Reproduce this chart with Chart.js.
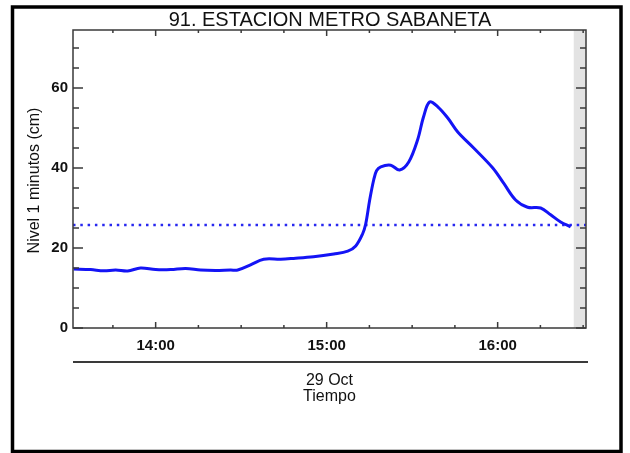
<!DOCTYPE html>
<html><head><meta charset="utf-8">
<script src="https://cdn.jsdelivr.net/npm/chart.js@4.4.1/dist/chart.umd.min.js"></script>
<style>html,body{margin:0;padding:0;background:#fff}canvas{display:block}</style>
</head><body>
<canvas id="c" width="630" height="453"></canvas>
<script>
// ---- data (minutes since midnight, level in cm) ----
const chartTitle = '91. ESTACION METRO SABANETA';
const yTitle = 'Nivel 1 minutos (cm)';
const dateLabel = '29 Oct';
const xTitle = 'Tiempo';
const minutes = [811.2, 817.2, 821.8, 826, 830.2, 834.7, 840, 845.3, 850.5, 855.8, 861, 866.3, 868.8,
  873.3, 877.9, 883.9, 888.4, 895.4, 902.5, 907.4, 910.2, 912.6, 913.7, 915.1, 916.5, 917.5, 919,
  922.5, 925.6, 928.8, 931.9, 934, 936.1, 939, 942.5, 946, 951.6, 958.3, 962.1, 966.3, 970.5,
  975.1, 978.6, 982.1, 985.6];
const levels = [14.75, 14.6, 14.3, 14.5, 14.25, 15, 14.6, 14.6, 14.9, 14.5, 14.4, 14.5, 14.5,
  15.8, 17.2, 17.2, 17.4, 17.8, 18.5, 19.2, 20.5, 23.5, 26, 32, 37, 39.3, 40.3,
  40.7, 39.5, 41.5, 47, 52.8, 56.5, 55.3, 52.5, 49, 45, 40, 36.2, 32, 30.2,
  30, 28.3, 26.5, 25.3];
const thresholdMinutes = [811, 991];
const thresholdLevels = [25.75, 25.75];
const xRange = [811, 991];
const yRange = [0, 74.5];
const noDataStart = 986.7;
const xTickValues = [825, 840, 855, 870, 885, 900, 915, 930, 945, 960, 975, 990];
const xLabelValues = [840, 900, 960];          // 14:00, 15:00, 16:00
const yTickValues = [0, 5, 10, 15, 20, 25, 30, 35, 40, 45, 50, 55, 60, 65, 70];
const yLabelValues = [0, 20, 40, 60];

const fmtTime = v => String(Math.floor(v / 60)).padStart(2, '0') + ':' + String(Math.round(v % 60)).padStart(2, '0');
const FONT = '"Liberation Sans", Arial, Helvetica, sans-serif';

const decor = {
  id: 'decor',
  beforeDatasetsDraw(chart) {
    const {ctx, chartArea: a, scales: {x}} = chart;
    const x0 = x.getPixelForValue(noDataStart);
    ctx.save();
    ctx.fillStyle = '#e3e3e3';
    ctx.fillRect(x0, a.top, a.right - x0, a.bottom - a.top);
    ctx.restore();
  },
  afterDraw(chart) {
    const {ctx, chartArea: a, scales: {x, y}} = chart;
    ctx.save();
    ctx.strokeStyle = '#3a3a3a';
    ctx.lineWidth = 1.5;
    ctx.strokeRect(a.left, a.top, a.right - a.left, a.bottom - a.top);
    ctx.beginPath();
    x.ticks.forEach(t => {
      const px = x.getPixelForValue(t.value);
      const len = xLabelValues.includes(t.value) ? 6 : 3;
      ctx.moveTo(px, a.bottom); ctx.lineTo(px, a.bottom - len);
      ctx.moveTo(px, a.top); ctx.lineTo(px, a.top + len);
    });
    y.ticks.forEach(t => {
      const py = y.getPixelForValue(t.value);
      const len = yLabelValues.includes(t.value) ? 10 : 6;
      ctx.moveTo(a.left, py); ctx.lineTo(a.left + len, py);
      ctx.moveTo(a.right, py); ctx.lineTo(a.right - len, py);
    });
    ctx.stroke();
    // separator under the time labels
    ctx.lineWidth = 2;
    ctx.beginPath();
    ctx.moveTo(a.left, 362); ctx.lineTo(a.right + 2, 362);
    ctx.stroke();
    // texts
    ctx.fillStyle = '#111';
    ctx.textAlign = 'center';
    ctx.textBaseline = 'alphabetic';
    ctx.font = '20px ' + FONT;
    ctx.fillText(chartTitle, 330, 25.5);
    ctx.font = '16px ' + FONT;
    ctx.fillText(dateLabel, 329.5, 384.5);
    ctx.fillText(xTitle, 329.5, 400.5);
    ctx.save();
    ctx.translate(38.5, 180.5);
    ctx.rotate(-Math.PI / 2);
    ctx.fillText(yTitle, 0, 0);
    ctx.restore();
    // outer frame
    ctx.strokeStyle = '#000';
    ctx.lineWidth = 3.5;
    ctx.strokeRect(12.5, 7, 608.5, 444.5);
    ctx.restore();
  }
};

new Chart(document.getElementById('c'), {
  type: 'line',
  data: {
    datasets: [
      {
        data: minutes.map((m, i) => ({x: m, y: levels[i]})),
        borderColor: 'rgb(20,20,245)',
        borderWidth: 3,
        pointRadius: 0,
        tension: 0.35,
        fill: false
      },
      {
        data: thresholdMinutes.map((m, i) => ({x: m, y: thresholdLevels[i]})),
        borderColor: 'rgb(40,40,240)',
        borderWidth: 2.5,
        borderDash: [2.5, 4.8],
        pointRadius: 0,
        fill: false
      }
    ]
  },
  options: {
    responsive: false,
    animation: false,
    layout: {padding: {left: 0, top: 30, right: 44, bottom: 100}},
    plugins: {legend: {display: false}, tooltip: {enabled: false}, title: {display: false}},
    scales: {
      x: {
        type: 'linear', min: xRange[0], max: xRange[1],
        grid: {display: false, drawTicks: false},
        border: {display: false},
        afterBuildTicks: s => { s.ticks = xTickValues.map(v => ({value: v})); },
        ticks: {
          autoSkip: false, maxRotation: 0, padding: 9,
          color: '#111', font: {family: FONT, size: 15, weight: 'bold'},
          callback: v => (xLabelValues.includes(v) ? fmtTime(v) : '')
        },
        afterFit: s => { s.height = 25; }
      },
      y: {
        min: yRange[0], max: yRange[1],
        grid: {display: false, drawTicks: false},
        border: {display: false},
        afterBuildTicks: s => { s.ticks = yTickValues.map(v => ({value: v})); },
        ticks: {
          autoSkip: false, padding: 5,
          color: '#111', font: {family: FONT, size: 15, weight: 'bold'},
          callback: v => (yLabelValues.includes(v) ? String(v) : '')
        },
        afterFit: s => { s.width = 73; }
      }
    }
  },
  plugins: [decor]
});
</script>
</body></html>
